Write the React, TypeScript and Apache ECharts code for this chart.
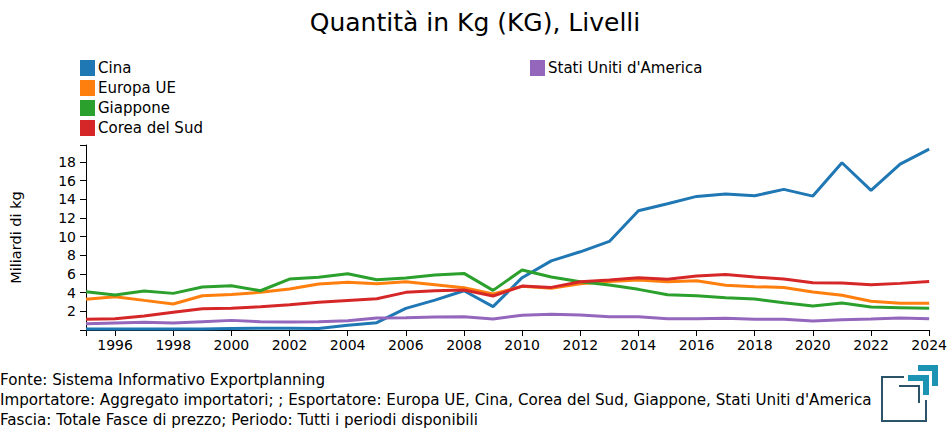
import React, { useEffect, useRef } from "react";
import * as echarts from "echarts";

const years = [
  "1995", "1996", "1997", "1998", "1999", "2000", "2001", "2002", "2003", "2004",
  "2005", "2006", "2007", "2008", "2009", "2010", "2011", "2012", "2013", "2014",
  "2015", "2016", "2017", "2018", "2019", "2020", "2021", "2022", "2023", "2024",
];

const cina = [
  0.1, 0.1, 0.1, 0.1, 0.1, 0.15, 0.2, 0.2, 0.15, 0.5,
  0.78, 2.32, 3.2, 4.2, 2.5, 5.6, 7.4, 8.37, 9.48, 12.76,
  13.51, 14.3, 14.55, 14.37, 15.05, 14.33, 17.9, 14.94, 17.75, 19.36,
];
const europaUE = [
  3.28, 3.57, 3.17, 2.78, 3.67, 3.81, 4.03, 4.38, 4.92, 5.1,
  4.95, 5.17, 4.85, 4.53, 3.85, 4.67, 4.46, 4.95, 5.2, 5.35,
  5.17, 5.28, 4.78, 4.64, 4.56, 4.06, 3.71, 3.07, 2.85, 2.85,
];
const giappone = [
  4.1, 3.74, 4.17, 3.92, 4.6, 4.74, 4.2, 5.45, 5.65, 6.02,
  5.38, 5.56, 5.88, 6.06, 4.24, 6.42, 5.67, 5.17, 4.81, 4.35,
  3.78, 3.67, 3.46, 3.32, 2.92, 2.57, 2.89, 2.46, 2.39, 2.32,
];
const coreaDelSud = [
  1.14, 1.21, 1.5, 1.89, 2.28, 2.32, 2.5, 2.71, 2.96, 3.17,
  3.35, 4.03, 4.2, 4.28, 3.64, 4.7, 4.56, 5.17, 5.35, 5.6,
  5.42, 5.78, 5.95, 5.67, 5.45, 5.06, 5.03, 4.85, 4.99, 5.2,
];
const statiUniti = [
  0.68, 0.75, 0.82, 0.75, 0.89, 1.03, 0.89, 0.86, 0.88, 1.0,
  1.28, 1.32, 1.39, 1.42, 1.18, 1.57, 1.68, 1.6, 1.42, 1.42,
  1.21, 1.21, 1.25, 1.14, 1.14, 0.96, 1.1, 1.18, 1.28, 1.21,
];

const seriesNames = ["Cina", "Europa UE", "Giappone", "Corea del Sud", "Stati Uniti d'America"];
const seriesValues = [cina, europaUE, giappone, coreaDelSud, statiUniti];
const colors = ["#1f77b4", "#ff7f0e", "#2ca02c", "#d62728", "#9467bd"];

const titleText = "Quantità in Kg (KG), Livelli";
const yAxisName = "Miliardi di kg";
const footerLines = [
  "Fonte: Sistema Informativo Exportplanning",
  "Importatore: Aggregato importatori; ; Esportatore: Europa UE, Cina, Corea del Sud, Giappone, Stati Uniti d'America",
  "Fascia: Totale Fasce di prezzo; Periodo: Tutti i periodi disponibili",
];

const FONT = "DejaVu Sans";

export default function App() {
  const ref = useRef<HTMLDivElement>(null);
  useEffect(() => {
    if (!ref.current) return;
    const chart = echarts.init(ref.current, undefined, { renderer: "svg" });
    const dark = "#2b5468";
    const teal = "#1c93b2";
    const legendText = { fontFamily: FONT, fontSize: 15, color: "#000", padding: [0, 0, 0, -2] };
    chart.setOption({
      animation: false,
      textStyle: { fontFamily: FONT },
      title: {
        text: titleText,
        left: "center",
        top: 5,
        textStyle: { fontFamily: FONT, fontSize: 25, fontWeight: "normal", color: "#000" },
      },
      legend: [
        {
          data: seriesNames.slice(0, 4),
          orient: "vertical",
          left: 80,
          top: 60,
          itemWidth: 15,
          itemHeight: 16,
          itemGap: 4,
          icon: "rect",
          selectedMode: false,
          padding: 0,
          textStyle: legendText,
        },
        {
          data: seriesNames.slice(4),
          orient: "vertical",
          left: 530,
          top: 60,
          itemWidth: 15,
          itemHeight: 16,
          icon: "rect",
          selectedMode: false,
          padding: 0,
          textStyle: legendText,
        },
      ],
      grid: { left: 80, right: 20, top: 145, bottom: 105, containLabel: false },
      xAxis: {
        type: "category",
        data: years,
        boundaryGap: false,
        axisLine: { lineStyle: { color: "#000", width: 1 } },
        axisTick: {
          length: 6,
          lineStyle: { color: "#000" },
          interval: (i: number, v: string) => i === 0 || i === years.length - 1 || Number(v) % 2 === 0,
        },
        axisLabel: {
          interval: (_i: number, v: string) => Number(v) % 2 === 0,
          color: "#000",
          fontSize: 14,
          fontFamily: FONT,
          margin: 8,
        },
        splitLine: { show: false },
      },
      yAxis: {
        type: "value",
        min: 0,
        max: 19.8,
        interval: 2,
        name: yAxisName,
        nameLocation: "middle",
        nameGap: 63,
        nameTextStyle: { fontFamily: FONT, fontSize: 14.5, color: "#000" },
        axisLine: { show: true, lineStyle: { color: "#000", width: 1 } },
        axisTick: { show: true, length: 6, lineStyle: { color: "#000" } },
        axisLabel: {
          color: "#000",
          fontSize: 14,
          fontFamily: FONT,
          margin: 10,
          formatter: (v: number) => (v > 0 && Math.abs(v % 2) < 1e-9 ? String(v) : ""),
        },
        splitLine: { show: false },
      },
      series: seriesNames.map((name, i) => ({
        name,
        type: "line",
        data: seriesValues[i],
        showSymbol: false,
        symbol: "none",
        lineStyle: { width: 3, color: colors[i] },
        itemStyle: { color: colors[i] },
      })),
      graphic: [
        ...footerLines.map((t, i) => ({
          type: "text",
          left: 0,
          top: 372 + i * 20,
          style: { text: t, font: `15.15px "${FONT}"`, fill: "#000" },
        })),
        {
          type: "polyline",
          shape: { points: [[904, 377], [882, 377], [882, 421], [926, 421], [926, 400]] },
          style: { stroke: dark, lineWidth: 2, fill: null },
        },
        {
          type: "polyline",
          shape: { points: [[899, 386], [919, 386], [919, 403]] },
          style: { stroke: dark, lineWidth: 2, fill: null },
        },
        { type: "rect", shape: { x: 918, y: 365, width: 20, height: 6 }, style: { fill: teal } },
        { type: "rect", shape: { x: 932, y: 365, width: 6, height: 21 }, style: { fill: teal } },
        { type: "rect", shape: { x: 908, y: 375, width: 21, height: 6 }, style: { fill: teal } },
        { type: "rect", shape: { x: 923, y: 375, width: 6, height: 20 }, style: { fill: teal } },
      ],
    });
    return () => chart.dispose();
  }, []);
  return (
    <div
      ref={ref}
      style={{ position: "absolute", left: 0, top: 0, width: 950, height: 435, background: "#fff" }}
    />
  );
}
